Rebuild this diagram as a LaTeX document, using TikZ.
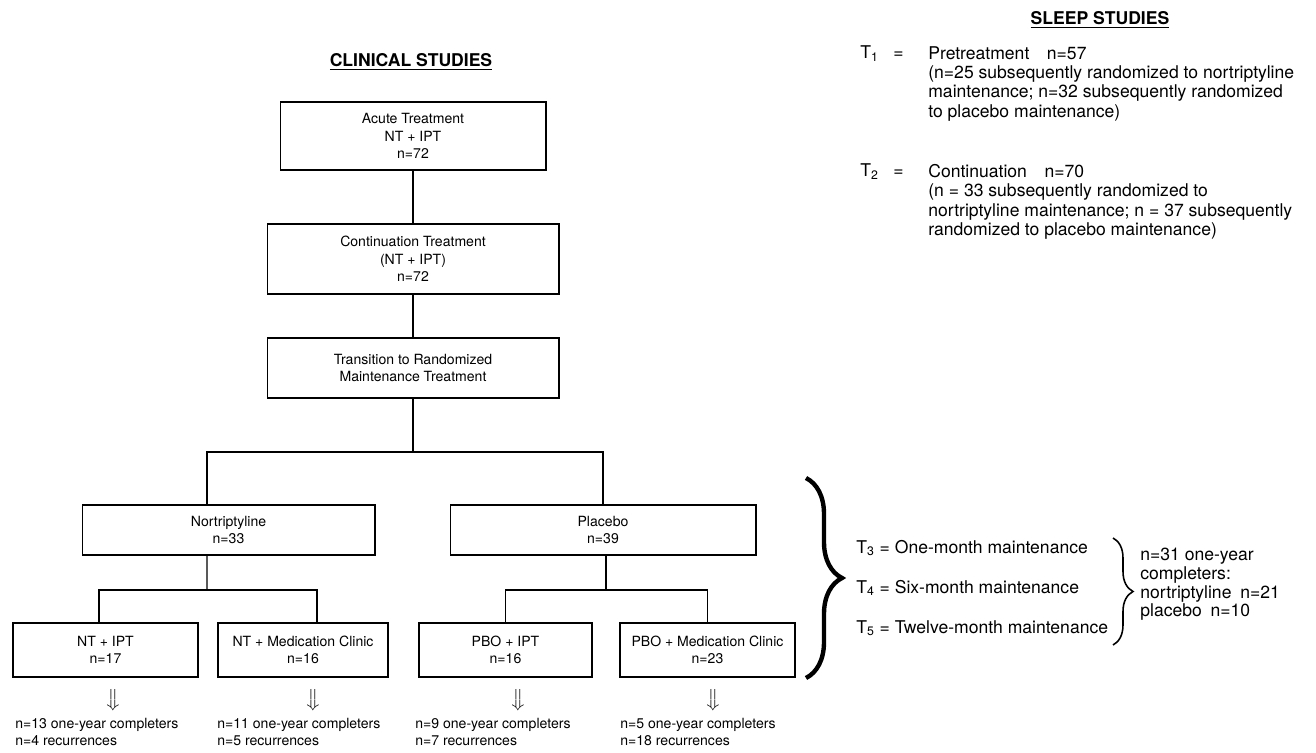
\documentclass[tikz,border=0pt]{standalone}
\usepackage{fontspec}
\setmainfont{TeX Gyre Heros}
\usepackage{amsmath}
\usetikzlibrary{decorations.pathreplacing}

\begin{document}
\begin{tikzpicture}[x=0.02cm,y=-0.02cm,
    box/.style={draw,line width=0.6pt,align=center,inner sep=0pt,font=\fontsize{8}{10}\selectfont},
    outcome/.style={anchor=north west,align=left,inner sep=0pt,font=\fontsize{8}{9.6}\selectfont},
    sleep/.style={anchor=north west,align=left,inner sep=0pt,font=\fontsize{10}{11}\selectfont},
    tlabel/.style={anchor=base west,inner sep=0pt,font=\fontsize{10}{11}\selectfont},
    heading/.style={inner sep=0pt,font=\fontsize{10}{12}\selectfont\bfseries}]
                      \useasboundingbox (0,0) rectangle (1316,753);
                      % clinical studies
                      \node[heading] (clin) at (411,62) {\underline{CLINICAL STUDIES}};
                      \node[box,minimum width=5.32cm,minimum height=1.36cm] (acute) at (413,136) {Acute Treatment\\NT + IPT\\n=72};
                      \node[box,minimum width=5.84cm,minimum height=1.40cm] (cont) at (413,259) {Continuation Treatment\\(NT + IPT)\\n=72};
                      \node[box,minimum width=5.84cm,minimum height=1.20cm] (trans) at (413,368) {Transition to Randomized\\Maintenance Treatment};
                      \node[box,minimum width=5.86cm,minimum height=1.00cm] (nort) at (228.5,530) {Nortriptyline\\n=33};
                      \node[box,minimum width=6.12cm,minimum height=1.00cm] (plac) at (603,530) {Placebo\\n=39};
                      \node[box,minimum width=3.70cm,minimum height=1.08cm] (ntipt) at (105.5,650) {NT + IPT\\n=17};
                      \node[box,minimum width=3.40cm,minimum height=1.08cm] (ntmed) at (303,650) {NT + Medication Clinic\\n=16};
                      \node[box,minimum width=3.46cm,minimum height=1.08cm] (pboipt) at (505.5,650) {PBO + IPT\\n=16};
                      \node[box,minimum width=3.50cm,minimum height=1.08cm] (pbomed) at (707.5,650) {PBO + Medication Clinic\\n=23};
                      \draw[line width=0.6pt] (acute) -- (cont);
                      \draw[line width=0.6pt] (cont) -- (trans);
                      \coordinate (split1) at (413,452);
                      \coordinate (split2) at (207,590);
                      \coordinate (split3) at (606,590);
                      \draw[line width=0.6pt] (trans) -- (split1);
                      \draw[line width=0.6pt] ([xshift=-0.43cm]nort.north) |- (split1) -| (plac.north);
                      \draw[line width=0.6pt] ([xshift=-0.43cm]nort.south) -- (split2);
                      \draw[line width=0.6pt] ([xshift=-0.13cm]ntipt.north) |- (split2) -| ([xshift=0.28cm]ntmed.north);
                      \draw[line width=0.6pt] (plac.south -| split3) -- (split3);
                      \draw[line width=0.6pt] (pboipt.north) |- (split3) -| (pbomed.north);
                      \node[inner sep=0pt] (arr1) at (113,700) {$\big\Downarrow$};
                      \node[inner sep=0pt] (arr2) at (313,700) {$\big\Downarrow$};
                      \node[inner sep=0pt] (arr3) at (518,700) {$\big\Downarrow$};
                      \node[inner sep=0pt] (arr4) at (713,700) {$\big\Downarrow$};
                      \node[outcome] (out1) at (15,718) {n=13 one-year completers\\n=4 recurrences};
                      \node[outcome] (out2) at (217,718) {n=11 one-year completers\\n=5 recurrences};
                      \node[outcome] (out3) at (415,718) {n=9 one-year completers\\n=7 recurrences};
                      \node[outcome] (out4) at (620,718) {n=5 one-year completers\\n=18 recurrences};
                      % sleep studies
                      \node[heading] (sleephead) at (1100,20) {\underline{SLEEP STUDIES}};
                      \node[tlabel] (t1) at (860,59) {T\textsubscript{1}};
                      \node[tlabel] (eq1) at (893,59) {=};
                      \node[sleep] (t1txt) at (928,46) {Pretreatment\quad n=57\\(n=25 subsequently randomized to nortriptyline\\maintenance; n=32 subsequently randomized\\to placebo maintenance)};
                      \node[tlabel] (t2) at (860,177) {T\textsubscript{2}};
                      \node[tlabel] (eq2) at (893,177) {=};
                      \node[sleep] (t2txt) at (928,164) {Continuation\quad n=70\\(n = 33 subsequently randomized to\\nortriptyline maintenance; n = 37 subsequently\\randomized to placebo maintenance)};
                      \coordinate (big1) at (806,478);
                      \coordinate (big2) at (806,678);
                      \draw[decorate,decoration={brace,amplitude=0.72cm},line width=2.5pt] (big1) -- (big2);
                      \node[tlabel] (t3) at (856,553) {T\textsubscript{3} = One-month maintenance};
                      \node[tlabel] (t4) at (856,593) {T\textsubscript{4} = Six-month maintenance};
                      \node[tlabel] (t5) at (856,633) {T\textsubscript{5} = Twelve-month maintenance};
                      \coordinate (small1) at (1113,538);
                      \coordinate (small2) at (1113,645);
                      \draw[decorate,decoration={brace,amplitude=0.4cm},line width=0.9pt] (small1) -- (small2);
                      \node[sleep,font=\fontsize{10}{10.6}\selectfont] (compl) at (1140,548) {n=31 one-year\\completers:\\nortriptyline\enspace n=21\\placebo\enspace n=10};
                  \end{tikzpicture}
\end{document}
